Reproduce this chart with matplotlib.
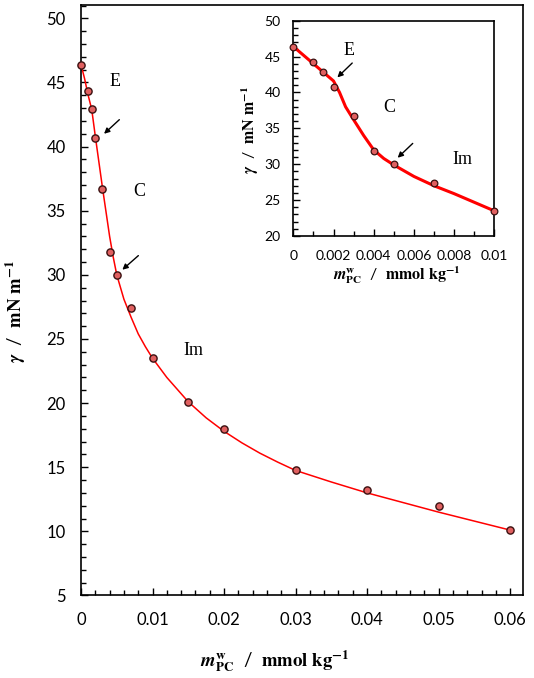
"""Surface tension vs. PC molality, with a zoomed inset of the low-concentration region."""

import matplotlib

matplotlib.use("Agg")
import matplotlib.pyplot as plt  # noqa: E402
from matplotlib.ticker import FixedLocator, MultipleLocator  # noqa: E402

# measured points (mmol/kg, mN/m)
m_pc = [0, 0.001, 0.0015, 0.002, 0.003, 0.004, 0.005, 0.007, 0.010,
        0.015, 0.020, 0.030, 0.040, 0.050, 0.060]
gamma = [46.4, 44.3, 42.9, 40.7, 36.7, 31.8, 30.0, 27.4, 23.5,
         20.1, 18.0, 14.8, 13.2, 12.0, 10.1]

# fitted curve, main panel
fit_x = [0, 0.0005, 0.001, 0.0015, 0.002, 0.0025, 0.003, 0.0035, 0.004, 0.0045,
         0.005, 0.006, 0.007, 0.008, 0.009, 0.010, 0.012, 0.015, 0.0175, 0.020,
         0.0225, 0.025, 0.0275, 0.030, 0.035, 0.040, 0.045, 0.050, 0.055, 0.060]
fit_y = [46.4, 45.3, 44.0, 42.9, 40.8, 38.8, 36.8, 34.9, 33.0, 31.4,
         30.0, 28.1, 26.7, 25.4, 24.4, 23.5, 22.0, 20.1, 18.85, 17.8,
         16.9, 16.1, 15.4, 14.75, 13.85, 13.0, 12.25, 11.5, 10.8, 10.1]

# inset: points up to 0.01 and its piecewise fit
ins_n = 9
ins_fit_x = [0, 0.001, 0.0015, 0.002, 0.0023, 0.0026, 0.003, 0.0035, 0.004, 0.0045,
             0.005, 0.006, 0.007, 0.008, 0.009, 0.010]
ins_fit_y = [46.4, 44.0, 42.8, 41.6, 40.0, 38.0, 36.2, 34.0, 32.0, 30.8,
             29.9, 28.3, 27.0, 25.9, 24.7, 23.5]

main_xticks = [0, 0.01, 0.02, 0.03, 0.04, 0.05, 0.06]
main_xlabels = ["0", "0.01", "0.02", "0.03", "0.04", "0.05", "0.06"]
ins_xticks = [0, 0.002, 0.004, 0.006, 0.008, 0.01]
ins_xlabels = ["0", "0.002", "0.004", "0.006", "0.008", "0.01"]

RED = "#ff0000"
FACE = "#e06060"
EDGE = "#3a1010"
XLAB = r"$\mathbfit{m}_{\mathbf{PC}}^{\mathbf{w}}$  /  $\mathbf{mmol\ kg}^{\mathbf{-1}}$"
YLAB = r"$\mathbfit{\gamma}$  /  $\mathbf{mN\ m}^{\mathbf{-1}}$"

plt.rcParams["font.family"] = ["Lato", "DejaVu Sans"]
plt.rcParams["mathtext.fontset"] = "stix"


def style(ax, fs, pad_x, pad_y):
    for s in ax.spines.values():
        s.set_linewidth(1.2)
    ax.tick_params(which="both", direction="in", top=False, right=False, width=1)
    ax.tick_params(which="major", length=5, labelsize=fs)
    ax.tick_params(which="minor", length=3.5)
    ax.tick_params(axis="x", pad=pad_x)
    ax.tick_params(axis="y", pad=pad_y)


def arrow(ax, tail, head):
    ax.annotate("", xy=head, xytext=tail,
                arrowprops=dict(arrowstyle="-|>", color="black", lw=1, mutation_scale=8,
                                shrinkA=0, shrinkB=0))


fig = plt.figure(figsize=(5.34, 6.78), dpi=100)
ax = fig.add_axes([0.1517, 0.1217, 0.8277, 0.8709])
ax.plot(fit_x, fit_y, color=RED, lw=1.1, zorder=2)
ax.plot(m_pc, gamma, "o", ms=5.2, mfc=FACE, mec=EDGE, mew=1, zorder=3, clip_on=False)
ax.set_xlim(0, 0.0618)
ax.set_ylim(5, 51.04)
ax.xaxis.set_major_locator(FixedLocator(main_xticks))
ax.set_xticklabels(main_xlabels)
ax.xaxis.set_minor_locator(MultipleLocator(0.002))
ax.set_yticks(range(5, 51, 5))
ax.yaxis.set_minor_locator(MultipleLocator(1))
style(ax, 12, 12, 11)

serif = dict(family=["Liberation Serif", "DejaVu Serif"], fontsize=13, ha="center", va="center")
ax.text(0.00476, 45.1, "E", **serif)
ax.text(0.00811, 36.5, "C", **serif)
ax.text(0.0157, 24.1, "Im", **serif)
arrow(ax, (0.00536, 42.1), (0.00322, 41.0))
arrow(ax, (0.00802, 31.5), (0.00578, 30.4))

fig.text(275 / 534, 1 - 661 / 678, XLAB, fontsize=13.5, ha="center", va="center")
fig.text(16 / 534, 1 - 311 / 678, YLAB, fontsize=13.5, ha="center", va="center", rotation=90)

# inset
ins = fig.add_axes([0.5493, 0.6519, 0.3764, 0.3176])
ins.plot(ins_fit_x, ins_fit_y, color=RED, lw=2.2, zorder=2)
ins.plot(m_pc[:ins_n], gamma[:ins_n], "o", ms=4.8, mfc=FACE, mec=EDGE, mew=0.9,
         zorder=3, clip_on=False)
ins.set_xlim(0, 0.01)
ins.set_ylim(20, 50)
ins.xaxis.set_major_locator(FixedLocator(ins_xticks))
ins.set_xticklabels(ins_xlabels)
ins.xaxis.set_minor_locator(MultipleLocator(0.001))
ins.set_yticks(range(20, 51, 5))
ins.yaxis.set_minor_locator(MultipleLocator(1))
style(ins, 10, 10, 9)
ins.text(0.00278, 45.8, "E", **serif)
ins.text(0.00476, 37.9, "C", **serif)
ins.text(0.0084, 30.6, "Im", **serif)
arrow(ins, (0.00293, 44.1), (0.00219, 42.1))
arrow(ins, (0.00594, 32.9), (0.00519, 30.9))

fig.text(397 / 534, 1 - 275 / 678, XLAB, fontsize=11.5, ha="center", va="center")
fig.text(250 / 534, 1 - 130 / 678, YLAB, fontsize=11.5, ha="center", va="center", rotation=90)

fig.savefig("out.png", dpi=100, facecolor="white")
